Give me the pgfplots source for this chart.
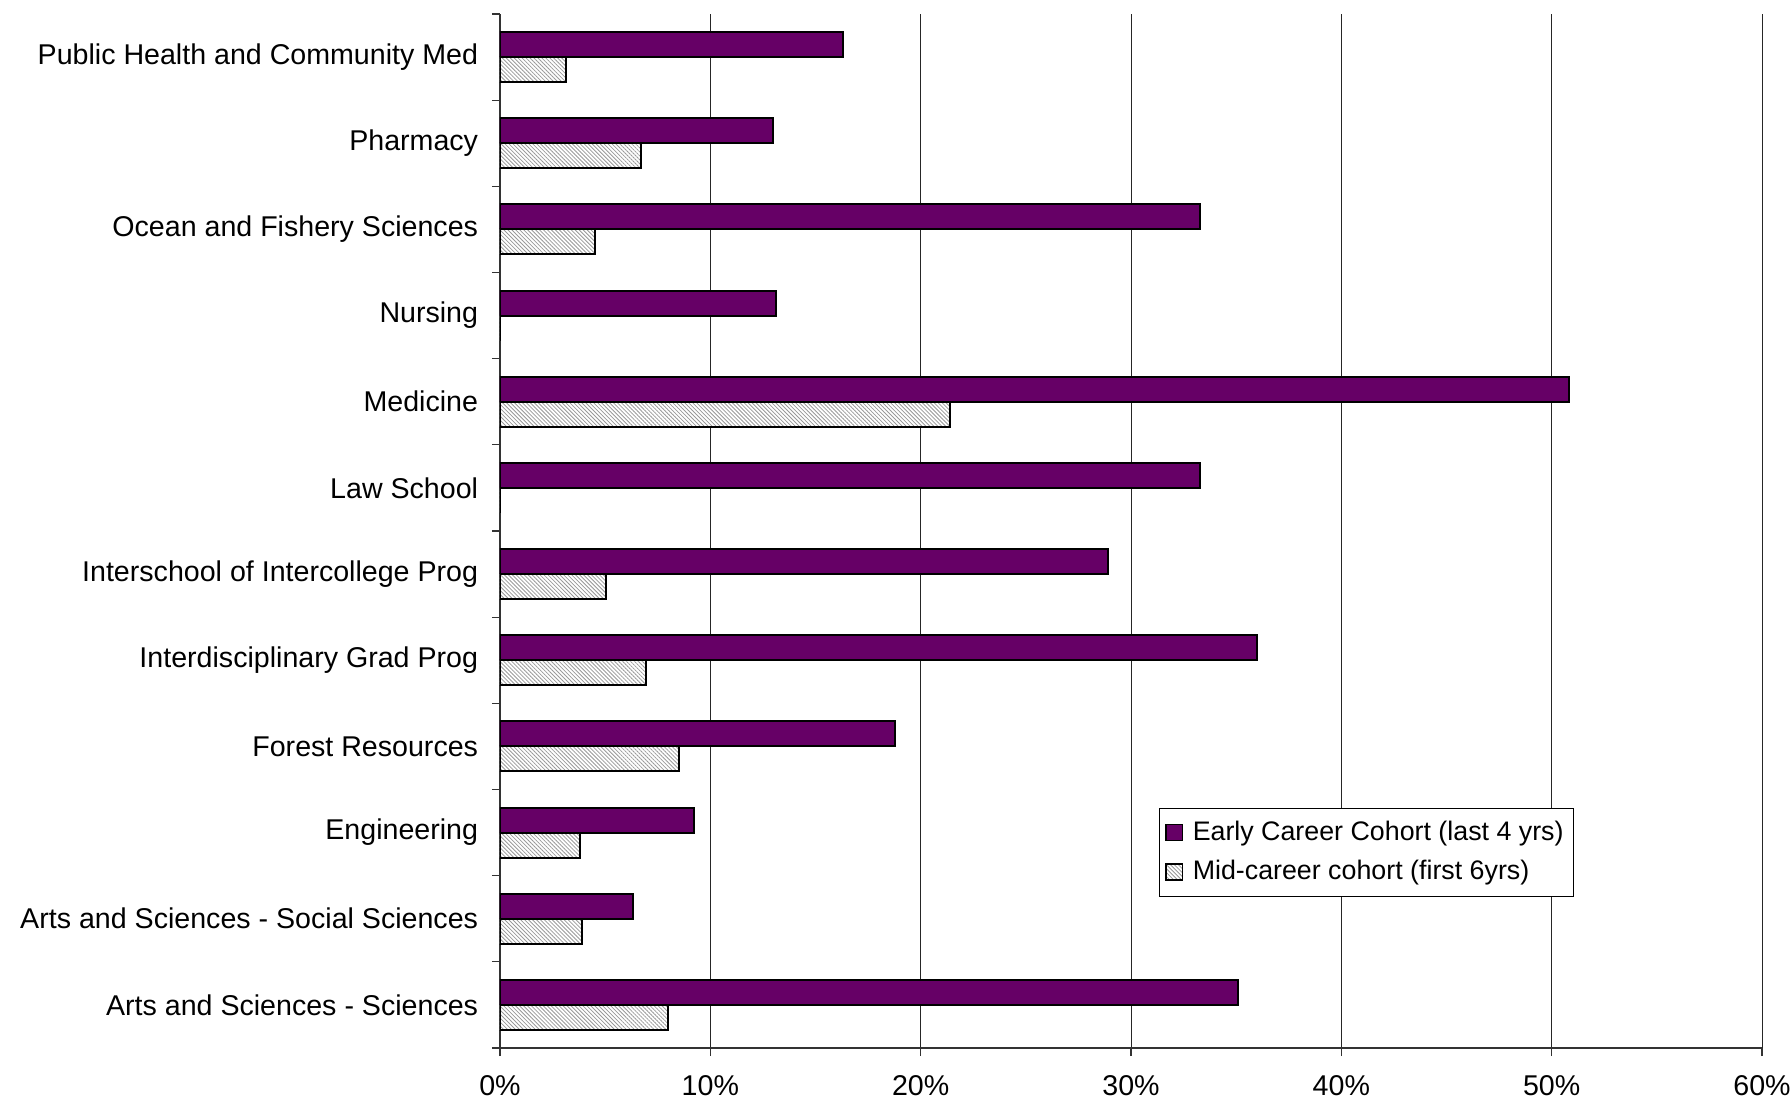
\documentclass[border=0pt]{standalone}
\usepackage{pgfplots}
\pgfplotsset{compat=1.18}
\usepackage{fontspec}
\setmainfont{Liberation Sans}
\usetikzlibrary{patterns.meta}
\definecolor{plum}{RGB}{102,0,102}
\begin{document}
\fontsize{14.3}{17}\selectfont
\begin{tikzpicture}
\path[use as bounding box] (-250pt,-26pt) rectangle (645.5pt,524pt);
\begin{axis}[
  at={(0,0)}, anchor=south west,
  scale only axis, width=631pt, height=517pt,
  xbar, bar width=0.29,
  xmin=0, xmax=60, ymin=-0.5, ymax=11.5,
  axis x line=bottom, axis y line=left,
  axis line style={-, black!80, line width=0.6pt},
  xtick={0,10,...,60},
  xticklabel={\pgfmathprintnumber{\tick}\%},
  /pgf/number format/assume math mode=true,
  tick style={black!80, line width=0.6pt},
  tick align=outside,
  major tick length=4pt,
  xmajorgrids, major grid style={black!85, line width=0.5pt},
  ytick={-0.5,0.5,...,11.5},
  yticklabels={},
  extra y ticks={0,...,11},
  extra y tick labels={Arts and Sciences - Sciences, Arts and Sciences - Social Sciences, Engineering, Forest Resources, Interdisciplinary Grad Prog, Interschool of Intercollege Prog, Law School, Medicine, Nursing, Ocean and Fishery Sciences, Pharmacy, Public Health and Community Med},
  extra y tick style={major tick length=0pt, tick style={draw=none}},
  yticklabel style={font=\fontsize{14.3}{17}\selectfont, xshift=-6pt},
  xticklabel style={font=\fontsize{14.3}{17}\selectfont, yshift=-5pt},
  legend style={at={(0.522,0.232)}, anchor=north west, draw=black, line width=0.6pt,
    font=\fontsize{13.4}{16}\selectfont, row sep=4pt, inner xsep=3pt, inner ysep=4pt},
  legend cell align=left,
  legend image code/.code={\draw[#1, line width=0.8pt] (1.2pt,-4pt) rectangle (9.4pt,4pt); \path (12pt,0pt);},
]
\addplot[draw=black, line width=1pt, fill=plum, bar shift=0.145] coordinates {
  (35.1,0) (6.3,1) (9.2,2) (18.8,3) (36.0,4) (28.9,5) (33.3,6) (50.8,7) (13.1,8) (33.3,9) (13.0,10) (16.3,11)};
\addplot[draw=black, line width=1pt, fill=white,
  postaction={pattern={Lines[angle=-45, distance=1.4pt, line width=0.4pt]}, pattern color=black!40},
  bar shift=-0.145] coordinates {
  (8.0,0) (3.9,1) (3.8,2) (8.5,3) (6.95,4) (5.05,5) (0,6) (21.4,7) (0,8) (4.5,9) (6.7,10) (3.15,11)};
\legend{Early Career Cohort (last 4 yrs), Mid-career cohort (first 6yrs)}
\end{axis}
\end{tikzpicture}
\end{document}
